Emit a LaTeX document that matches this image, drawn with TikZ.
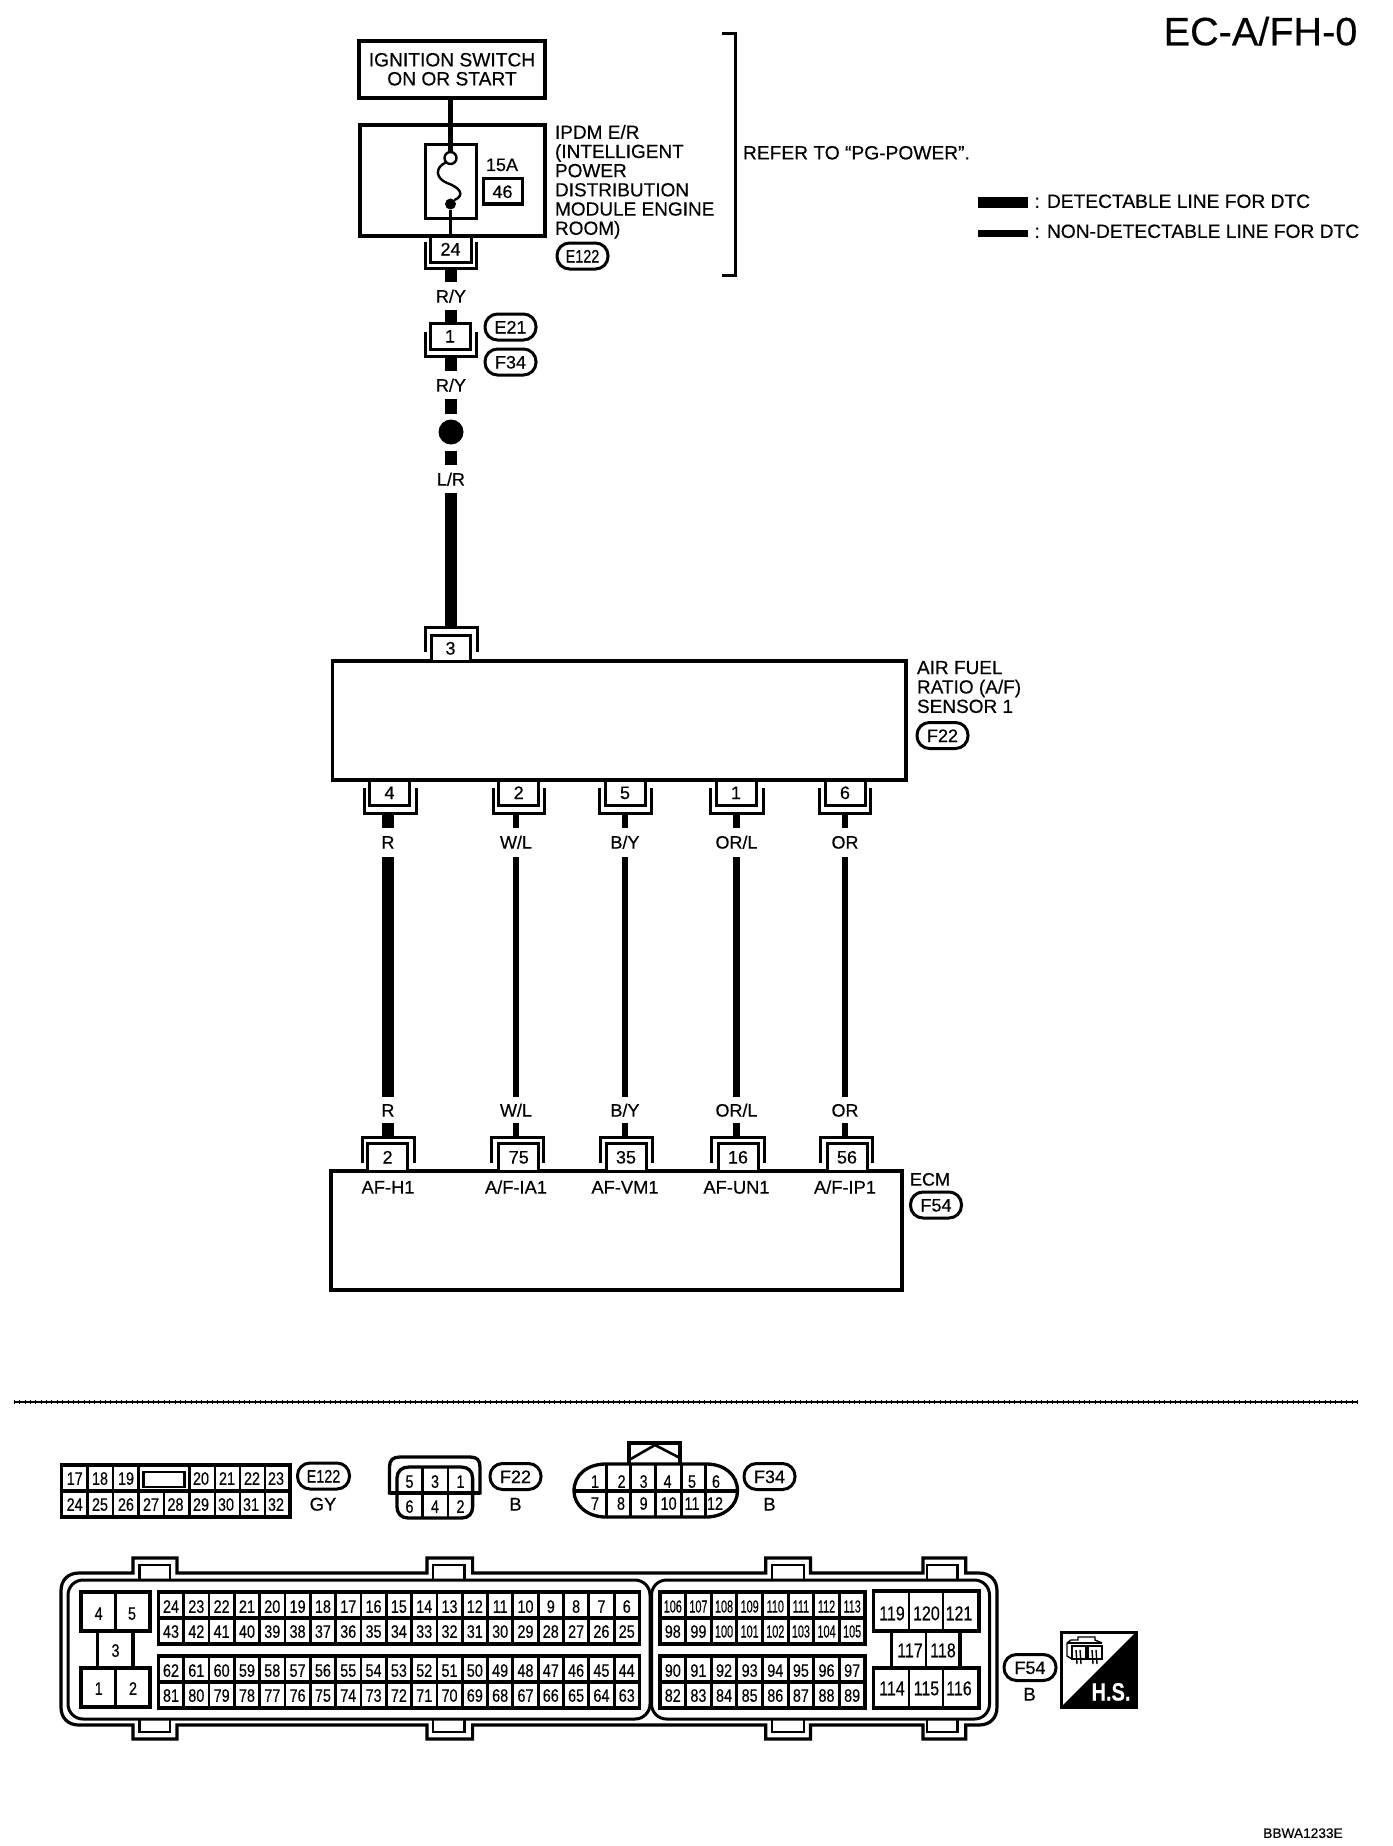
\documentclass[tikz,border=0pt]{standalone}
\usepackage{fontspec}
\setmainfont[FakeBold=0.35]{Liberation Sans}
\newfontfamily\narrowf[FakeStretch=0.8,FakeBold=0.35]{Liberation Sans}
\newfontfamily\slimf[FakeStretch=0.62,FakeBold=0.3]{Liberation Sans}
\tikzset{
  base/.style={inner sep=0pt,outer sep=0pt},
  txt/.style={base,font=\fontsize{18.5}{19.2}\selectfont,text height=13.2pt,text depth=0pt},
  txtw/.style={txt,font=\fontsize{19.2}{19.2}\selectfont,text height=13.8pt},
  wl/.style={txt,font=\fontsize{18}{18}\selectfont,minimum height=28pt},
  pinbox/.style={base,draw,fill=white,line width=3pt,minimum width=40pt,minimum height=25pt,
     font=\fontsize{18}{18}\selectfont,text height=13pt,text depth=0pt},
  bigbox/.style={base,draw,line width=3.2pt},
  uline/.style={line width=3pt,line join=miter},
  tagb/.style={base,draw,line width=3pt,minimum width=51pt,minimum height=26pt,rounded corners=12.5pt,
     font=\fontsize{18}{18}\selectfont,text height=13pt,text depth=0pt},
  pinn/.style={base,font=\narrowf\fontsize{18}{18}\selectfont,text height=13.5pt,text depth=0pt},
  pinslim/.style={base,font=\slimf\fontsize{17.5}{18}\selectfont,text height=13pt,text depth=0pt},
  pinbig/.style={base,font=\narrowf\fontsize{20}{20}\selectfont,text height=14.5pt,text depth=0pt},
  grid/.style={line width=3.3pt},
  cellsep/.style={line width=2.8pt},
  thickw/.style={line width=12pt},
  thinw/.style={line width=6.5pt},
  every node/.append style={outer sep=0pt}
}
\begin{document}
\begin{tikzpicture}[x=1pt,y=-1pt]
\path[use as bounding box,fill=white] (0,0) rectangle (1392,1846);
% title
\node[base,font=\fontsize{39.6}{40}\selectfont,text height=28.6pt,text depth=0pt] (title) at (1260.5,31) {EC-A/FH-0};
% top blocks
\node[bigbox,line width=3.5pt,minimum width=186pt,minimum height=57pt] (ign) at (452,69.5) {};
\node[txtw] (ign1) at (452,59.5) {IGNITION SWITCH};
\node[txtw] (ign2) at (452,78.5) {ON OR START};
\node[bigbox,line width=3.1pt,minimum width=185pt,minimum height=111pt] (ipdm) at (452.5,180.5) {};
\node[base,draw,line width=3pt,minimum width=51pt,minimum height=73pt] (fuse) at (450.5,181.5) {};
\node[base,circle,draw,fill=white,line width=2.4pt,minimum size=12pt] (fusetop) at (450.5,158) {};
\node[base,circle,fill=black,minimum size=11pt] (fusebot) at (450.5,204) {};
\draw[line width=2.4pt] (fusetop.south west) .. controls (435,167) and (435,178) .. (447,183)
   .. controls (459,187) and (466,195) .. (fusebot.north east);
\node[txt,font=\fontsize{18}{18}\selectfont,text height=13pt] (amp) at (502,164.5) {15A};
\node[base,draw,line width=3pt,minimum width=39pt,minimum height=25pt,font=\fontsize{18}{18}\selectfont,text height=13pt,text depth=0pt] (f46) at (502.5,191.5) {46};
\node[base,anchor=north west,align=left,font=\fontsize{19}{19.2}\selectfont] (ipdmt) at (555,125)
  {IPDM E/R\\(INTELLIGENT\\POWER\\DISTRIBUTION\\MODULE ENGINE\\ROOM)};
\node[tagb] (te122) at (582.5,256) {\narrowf E122};
\coordinate (brt) at (722,34);
\coordinate (brb) at (722,275);
\draw[line width=3pt] (brt) -- (735,34) -- (735,275) -- (brb);
\node[txtw,anchor=west] (refer) at (743,152.5) {REFER TO “PG-POWER”.};
% legend
\coordinate (la) at (978,202.5); \coordinate (lb) at (1028,202.5);
\coordinate (lc) at (978,233.5); \coordinate (ld) at (1028,233.5);
\draw[line width=11pt] (la) -- (lb);
\draw[line width=6.5pt] (lc) -- (ld);
\node[txtw,anchor=west] (lt1) at (1034.5,201) {: DETECTABLE LINE FOR DTC};
\node[txtw,anchor=west] (lt2) at (1034.5,231) {: NON-DETECTABLE LINE FOR DTC};
% vertical harness top
\node[pinbox,minimum height=26pt,minimum width=41pt] (c24) at (450.5,249) {24};
\draw[uline] (425,242) -- (425,268) -- (476,268) -- (476,242);
\coordinate (c24u) at (451,268);
\node[wl] (ry1) at (451,296) {R/Y};
\node[pinbox,minimum height=26pt] (c1) at (450,336) {1};
\draw[uline] (425,332) -- (425,356) -- (476,356) -- (476,332);
\coordinate (c1u) at (451,356);
\node[tagb] (te21) at (510.5,327) {E21};
\node[tagb] (tf34) at (510.5,362) {F34};
\node[wl] (ry2) at (451,385) {R/Y};
\node[base,circle,fill=black,minimum size=25pt,outer sep=6pt] (splice) at (451,432) {};
\node[wl] (lr) at (451,479) {L/R};
\coordinate (c3u) at (451,627);
\draw[line width=5.5pt] (fusetop.north |- ign.south) -- (fusetop.north);
\draw[line width=3.6pt] (fusebot.south) -- (fusebot.south |- c24.north);
\draw[thickw] (c24u) -- (ry1.north);
\draw[thickw] (ry1.south) -- (ry1.south |- c1.north);
\draw[thickw] (c1u) -- (ry2.north);
\draw[thickw] (ry2.south) -- (splice.north);
\draw[thickw] (splice.south) -- (lr.north);
\draw[thickw] (lr.south) -- (c3u);
% sensor
\node[bigbox,minimum width=573.5pt,minimum height=119pt] (sensor) at (619.25,720.5) {};
\node[pinbox,minimum width=39pt,minimum height=26pt] (c3) at (450.5,648) {3};
\draw[uline] (425,652) -- (425,627) -- (477,627) -- (477,652);
\node[base,anchor=north west,align=left,font=\fontsize{19}{19.4}\selectfont] (senst) at (917,661)
  {AIR FUEL\\RATIO (A/F)\\SENSOR 1};
\node[tagb] (tf22) at (942.5,735.5) {F22};
% ECM
\node[bigbox,minimum width=571pt,minimum height=119pt] (ecm) at (616.5,1230.5) {};
\node[txt,font=\fontsize{18}{18}\selectfont,anchor=west] (ecmt) at (910,1179) {ECM};
\node[tagb] (tf54a) at (936,1205) {F54};
\foreach \k/\pin/\bx/\xl/\xr/\wx/\lab/\lw/\ebx/\exl/\exr/\ewx/\epin/\sig in {
  a/4/389.5/364/416/388/R/12/387.6/362/414.5/387/2/AF-H1,
  b/2/518.7/493/544.6/516/{W/L}/6.5/518.8/491/543/516.4/75/{A/F-IA1},
  c/5/625/599/651/625/{B/Y}/6.5/626/600/652/625/35/AF-VM1,
  d/1/736/710.6/763/736.5/{OR/L}/6.5/738/711.6/764/737/16/AF-UN1,
  e/6/845/819/870.5/845/OR/6.5/847/820/872/845.6/56/{A/F-IP1}}{
  \node[pinbox] (s\k) at (\bx,792.5) {\pin};
  \draw[uline] (\xl,788) -- (\xl,813) -- (\xr,813) -- (\xr,788);
  \coordinate (su\k) at (\wx,813);
  \node[wl,minimum height=29pt] (sl\k) at (\wx,842) {\lab};
  \node[wl,minimum height=26pt] (el\k) at (\wx,1110) {\lab};
  \node[pinbox,minimum height=28pt] (e\k) at (\ebx,1157) {\epin};
  \draw[uline] (\exl,1163) -- (\exl,1137) -- (\exr,1137) -- (\exr,1163);
  \coordinate (eu\k) at (\wx,1137);
  \draw[line width=\lw pt] (su\k) -- (sl\k.north);
  \draw[line width=\lw pt] (sl\k.south) -- (el\k.north);
  \draw[line width=\lw pt] (el\k.south) -- (eu\k);
  \node[txt,font=\fontsize{18.3}{18}\selectfont] (sig\k) at (\wx,1187) {\sig};
}
% separator
\coordinate (sepa) at (14,1402); \coordinate (sepb) at (1358,1402);
\draw[line width=2.2pt] (sepa) -- (sepb);
\draw[line width=4pt,dash pattern=on 0.9pt off 4.45pt] (sepa) -- (sepb);
% E122 connector
\draw[grid] (61.4,1465) rectangle (290,1517);
\draw[grid] (61.4,1491) -- (290,1491);
\foreach \x in {87.5,113,138.5,189.5,215,240,265}{\draw[cellsep] (\x,1465) -- (\x,1517);}
\draw[cellsep] (164,1491) -- (164,1517);
\draw[line width=2.8pt] (143.6,1472) rectangle (184.4,1487);
\foreach \n/\x in {17/74.7,18/100,19/126,20/201,21/227,22/252,23/276}{\node[pinn] (ga\n) at (\x,1478) {\n};}
\foreach \n/\x in {24/74.7,25/100,26/126,27/151,28/175.5,29/201,30/226,31/251,32/276}{\node[pinn] (ga\n) at (\x,1504) {\n};}
\node[tagb,minimum width=52pt] (te122b) at (323.5,1476) {\narrowf E122};
\node[txt] (gy) at (323,1504) {GY};
% F22 connector
\draw[grid] (389.5,1493) -- (389.5,1467) .. controls (389.5,1460) and (393,1457) .. (400,1457) -- (470,1457)
   .. controls (477,1457) and (480,1460) .. (480,1467) -- (480,1493) -- cycle;
\draw[grid,fill=white] (397,1493) -- (397,1478) .. controls (397,1471) and (402,1467) .. (409,1467) -- (461,1467)
   .. controls (468,1467) and (472.6,1471) .. (472.6,1478) -- (472.6,1493) -- (472.6,1507)
   .. controls (472.6,1513) and (469,1518) .. (462,1518) -- (408,1518) .. controls (401,1518) and (397,1513) .. (397,1507) -- cycle;
\draw[grid] (389.5,1493) -- (480,1493);
\foreach \x in {422.6,448}{\draw[cellsep] (\x,1467) -- (\x,1518);}
\foreach \n/\x in {5/409.5,3/435,1/460.5}{\node[pinn] (gb\n) at (\x,1481) {\n};}
\foreach \n/\x in {6/409.5,4/435,2/460.5}{\node[pinn] (gb\n) at (\x,1506) {\n};}
\node[tagb] (tf22b) at (515.5,1476.5) {F22};
\node[txt] (bb1) at (515.5,1504) {B};
% F34 connector
\draw[grid] (629,1464) -- (629,1443) -- (680,1443) -- (680,1464);
\draw[line width=2.6pt] (629,1460) -- (655,1445) -- (680,1458);
\draw[grid] (606,1464) -- (706,1464) .. controls (725,1464) and (737.5,1475) .. (737.5,1491)
   .. controls (737.5,1505) and (725,1517) .. (706,1517) -- (606,1517)
   .. controls (587,1517) and (574,1505) .. (574,1491) .. controls (574,1475) and (587,1464) .. (606,1464) -- cycle;
\draw[grid] (574,1491) -- (737.5,1491);
\foreach \x in {606.3,630.8,655.8,681.8,705.8}{\draw[cellsep] (\x,1464) -- (\x,1517);}
\foreach \n/\x in {1/595,2/621.6,3/643.6,4/667.6,5/692,6/716}{\node[pinn] (gc\n) at (\x,1481) {\n};}
\foreach \n/\x in {7/595,8/621,9/643.6,10/668.6,11/692,12/715}{\node[pinn] (gc\n) at (\x,1503) {\n};}
\node[tagb] (tf34b) at (769.5,1476.5) {F34};
\node[txt] (bb2) at (769.5,1504) {B};
% ECM connector outline
\draw[line width=3.2pt,line join=miter] (79,1573) -- (133,1573) -- (133,1558) -- (177,1558) -- (177,1573)
  -- (427,1573) -- (427,1558) -- (472.6,1558) -- (472.6,1573)
  -- (765.7,1573) -- (765.7,1558) -- (810.4,1558) -- (810.4,1573)
  -- (923,1573) -- (923,1558) -- (965.7,1558) -- (965.7,1573) -- (979,1573)
  .. controls (990,1573) and (997,1580) .. (997,1591) -- (997,1707)
  .. controls (997,1718) and (990,1725) .. (979,1725) -- (965.7,1725)
  -- (965.7,1739) -- (923,1739) -- (923,1725) -- (810.4,1725) -- (810.4,1739) -- (765.7,1739) -- (765.7,1725)
  -- (472.6,1725) -- (472.6,1739) -- (427,1739) -- (427,1725) -- (177,1725) -- (177,1739) -- (133,1739) -- (133,1725)
  -- (79,1725) .. controls (68,1725) and (61,1718) .. (61,1707) -- (61,1591) .. controls (61,1580) and (68,1573) .. (79,1573) -- cycle;
\foreach \a/\b in {139.5/170,433/464.5,772/804,927/957.5}{
  \draw[line width=2.8pt] (\a,1579) -- (\a,1565) -- (\b,1565) -- (\b,1579);
  \draw[line width=2.8pt] (\a,1720) -- (\a,1732) -- (\b,1732) -- (\b,1720);
}
\draw[line width=3pt,rounded corners=15pt] (68,1580) rectangle (650,1719);
\draw[line width=3pt,rounded corners=15pt] (651.5,1580) rectangle (989.5,1719);
% left power block
\draw[line width=3.3pt] (81,1592) rectangle (150,1631);
\draw[line width=3.3pt] (97.6,1631) rectangle (133,1668);
\draw[line width=3.3pt] (81,1668) rectangle (150,1707);
\draw[cellsep] (115.5,1592) -- (115.5,1631);
\draw[cellsep] (115.5,1668) -- (115.5,1707);
\node[pinn] (h4) at (98.7,1613) {4};
\node[pinn] (h5) at (132,1613) {5};
\node[pinn] (h3) at (115.5,1650) {3};
\node[pinn] (h1) at (98.7,1688) {1};
\node[pinn] (h2) at (133,1688) {2};
% main pin blocks
\foreach \ya/\yb/\ym in {1592/1644/1618,1656/1708/1682}{
  \draw[line width=3.8pt] (158.4,\ya) rectangle (639.5,\yb);
  \draw[line width=3.8pt] (158.4,\ym) -- (639.5,\ym);
  \foreach \i in {1,...,18}{\draw[cellsep] ({158.4+\i*25.32},\ya) -- ({158.4+\i*25.32},\yb);}
  \draw[line width=3.8pt] (660,\ya) rectangle (865,\yb);
  \draw[line width=3.8pt] (660,\ym) -- (865,\ym);
  \foreach \i in {1,...,7}{\draw[cellsep] ({660+\i*25.62},\ya) -- ({660+\i*25.62},\yb);}
}
\foreach \n [count=\i from 0] in {24,23,22,21,20,19,18,17,16,15,14,13,12,11,10,9,8,7,6}{\node[pinn] (p\n) at ({171+\i*25.32},1606) {\n};}
\foreach \n [count=\i from 0] in {43,42,41,40,39,38,37,36,35,34,33,32,31,30,29,28,27,26,25}{\node[pinn] (p\n) at ({171+\i*25.32},1631) {\n};}
\foreach \n [count=\i from 0] in {62,61,60,59,58,57,56,55,54,53,52,51,50,49,48,47,46,45,44}{\node[pinn] (p\n) at ({171+\i*25.32},1670) {\n};}
\foreach \n [count=\i from 0] in {81,80,79,78,77,76,75,74,73,72,71,70,69,68,67,66,65,64,63}{\node[pinn] (p\n) at ({171+\i*25.32},1695) {\n};}
\foreach \n [count=\i from 0] in {106,107,108,109,110,111,112,113}{\node[pinslim] (p\n) at ({672.8+\i*25.62},1606) {\n};}
\foreach \n/\i in {98/0,99/1}{\node[pinn] (p\n) at ({672.8+\i*25.62},1631) {\n};}
\foreach \n/\i in {100/2,101/3,102/4,103/5,104/6,105/7}{\node[pinslim] (p\n) at ({672.8+\i*25.62},1631) {\n};}
\foreach \n [count=\i from 0] in {90,91,92,93,94,95,96,97}{\node[pinn] (p\n) at ({672.8+\i*25.62},1670) {\n};}
\foreach \n [count=\i from 0] in {82,83,84,85,86,87,88,89}{\node[pinn] (p\n) at ({672.8+\i*25.62},1695) {\n};}
% right power block
\draw[line width=3.3pt] (873.6,1591) rectangle (979,1631);
\draw[line width=3.3pt] (891.4,1631) rectangle (960,1668);
\draw[line width=3.3pt] (873.6,1668) rectangle (979,1708);
\foreach \x in {909,943}{\draw[cellsep] (\x,1591) -- (\x,1631); \draw[cellsep] (\x,1668) -- (\x,1708);}
\draw[cellsep] (926,1631) -- (926,1668);
\node[pinbig] (p119) at (892,1613) {119};
\node[pinbig] (p120) at (926.4,1613) {120};
\node[pinbig] (p121) at (959,1613) {121};
\node[pinbig] (p117) at (910,1650) {117};
\node[pinbig] (p118) at (943,1650) {118};
\node[pinbig] (p114) at (892,1688) {114};
\node[pinbig] (p115) at (926.4,1688) {115};
\node[pinbig] (p116) at (959,1688) {116};
\node[tagb,minimum width=52pt] (tf54b) at (1030,1667.5) {F54};
\node[txt] (bb3) at (1029.6,1694) {B};
% harness-side symbol
\fill (1061,1707) -- (1136,1632) -- (1136,1707) -- cycle;
\draw[line width=3pt] (1061,1632) rectangle (1136,1707);
\node[base,text=white,font=\narrowf\bfseries\fontsize{25}{25}\selectfont,text height=18pt,text depth=0pt] (hs) at (1111,1691.5) {H.S.};
\draw[line width=1.4pt] (1067,1643) -- (1071,1640) -- (1078,1640) -- (1078,1637) -- (1095,1637) -- (1095,1640) -- (1102,1643);
\draw[line width=1.4pt] (1067,1643) -- (1067,1656) -- (1072,1659);
\draw[line width=1.4pt] (1067,1643) -- (1102,1643);
\draw[line width=1.4pt] (1072,1646) rectangle (1086,1659);
\draw[line width=1.4pt] (1088,1646) rectangle (1102,1659);
\foreach \x in {1076,1080,1092,1096}{\draw[line width=1.4pt] (\x,1650) -- ({\x+1},1664);}
% code
\node[base,font=\fontsize{13.7}{14}\selectfont,text height=9.8pt,text depth=0pt] (code) at (1303,1833) {BBWA1233E};
\end{tikzpicture}
\end{document}
